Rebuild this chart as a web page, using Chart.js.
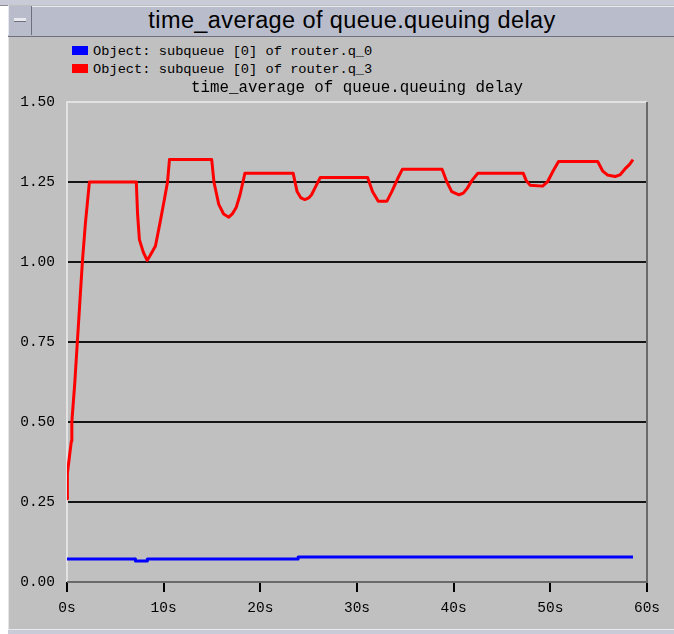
<!DOCTYPE html>
<html>
<head>
<meta charset="utf-8">
<script src="https://cdn.jsdelivr.net/npm/chart.js@4.4.1/dist/chart.umd.min.js"></script>
<style>
  html,body{margin:0;padding:0;background:#ffffff;width:674px;height:634px;overflow:hidden;}
  #topstrip{position:absolute;left:0;top:0;width:674px;height:5px;background:#c9cbd8;border-bottom:1px solid #8a8c9a;}
  #win{position:absolute;left:8px;top:5px;width:666px;height:625px;background:#c0c0c0;border-left:1px solid #e4e4e4;}
  #titlebar{position:absolute;left:8px;top:6px;width:666px;height:29px;background:#b9bccb;border-top:1px solid #e6e7ef;border-bottom:1px solid #6e7080;}
  #btn{position:absolute;left:8px;top:6px;width:22px;height:29px;background:#b9bccb;border-right:1px solid #6e7080;border-left:1px solid #e6e7ef;}
  #btn div{position:absolute;left:5px;top:12px;width:12px;height:3px;background:#e8e8ee;border-bottom:1px solid #6e7080;}
  #title{position:absolute;left:30px;width:644px;top:6px;height:29px;line-height:29px;text-align:center;font-family:"Liberation Sans",Arial,sans-serif;font-size:23.5px;color:#000;letter-spacing:0.4px;}
  #botstrip{position:absolute;left:8px;top:629px;width:666px;height:5px;background:#c9cbd8;border-top:1px solid #e8e8ee;}
  #legend{position:absolute;left:72px;top:43px;font-family:"Liberation Mono","Courier New",monospace;font-size:13.7px;color:#000;}
  .li{height:18px;line-height:18px;white-space:pre;}
  .sw{display:inline-block;width:16px;height:9px;margin-right:5px;vertical-align:middle;position:relative;top:-1px;}
  canvas{position:absolute;left:0;top:0;}
</style>
</head>
<body>
<div id="topstrip"></div>
<div id="win"></div>
<div id="titlebar"></div>
<div id="btn"><div></div></div>
<div id="title">time_average of queue.queuing delay</div>
<div id="botstrip"></div>
<div id="legend"></div>
<canvas id="c" width="674" height="634"></canvas>
<script>
// ---- data ----
const chartTitle = "time_average of queue.queuing delay";
const seriesLabels = ["Object: subqueue [0] of router.q_0", "Object: subqueue [0] of router.q_3"];
const seriesColors = ["#0000ff", "#ff0000"];

const q0Time  = [0, 7.07, 7.08, 8.3, 8.31, 23.9, 23.91, 58.55];
const q0Delay = [0.072, 0.072, 0.066, 0.066, 0.072, 0.072, 0.078, 0.078];

const q3Time  = [0, 0.04, 0.45, 0.5, 0.8, 1.07, 1.3, 1.59, 1.9, 2.32,
                 7.17, 7.3, 7.49, 7.9, 8.29, 8.6, 9.15, 9.67, 10.1, 10.4, 10.6,
                 14.97, 15.2, 15.7, 16.2, 16.74, 17.1, 17.5, 17.9, 18.2, 18.4,
                 23.4, 23.8, 24.2, 24.6, 25.0, 25.3, 25.8, 26.2,
                 31.1, 31.6, 32.2, 33.1, 33.6, 34.2, 34.7,
                 38.8, 39.3, 39.8, 40.55, 41.0, 41.4, 41.9, 42.5,
                 47.2, 47.5, 47.9, 49.2, 49.7, 50.3, 50.85,
                 54.9, 55.4, 55.9, 56.7, 57.2, 57.7, 58.2, 58.55];
const q3Delay = [0.26, 0.34, 0.44, 0.50, 0.62, 0.75, 0.86, 1.00, 1.12, 1.25,
                 1.25, 1.15, 1.07, 1.03, 1.005, 1.02, 1.05, 1.13, 1.20, 1.25, 1.32,
                 1.32, 1.25, 1.18, 1.15, 1.14, 1.15, 1.17, 1.21, 1.25, 1.277,
                 1.277, 1.22, 1.20, 1.195, 1.20, 1.21, 1.24, 1.264,
                 1.264, 1.22, 1.19, 1.19, 1.22, 1.26, 1.29,
                 1.29, 1.25, 1.22, 1.21, 1.215, 1.23, 1.255, 1.277,
                 1.277, 1.255, 1.24, 1.237, 1.25, 1.285, 1.314,
                 1.314, 1.285, 1.272, 1.267, 1.272, 1.29, 1.305, 1.32];

const xTickValues = [0, 10, 20, 30, 40, 50, 60];
const yTickValues = [0, 0.25, 0.5, 0.75, 1.0, 1.25, 1.5];

// ---- legend (real text) ----
const legendEl = document.getElementById('legend');
seriesLabels.forEach((lab, i) => {
  const row = document.createElement('div');
  row.className = 'li';
  const sw = document.createElement('span');
  sw.className = 'sw';
  sw.style.background = seriesColors[i];
  row.appendChild(sw);
  row.appendChild(document.createTextNode(lab));
  legendEl.appendChild(row);
});

const toPts = (t, v) => t.map((x, i) => ({x: x, y: v[i]}));
const MONO = '"Liberation Mono","Courier New",monospace';

const frame3d = {
  id: 'frame3d',
  beforeDatasetsDraw(chart) {
    const a = chart.chartArea, ctx = chart.ctx;
    ctx.save();
    ctx.lineWidth = 2;
    ctx.strokeStyle = '#e2e2e2';
    ctx.beginPath();
    ctx.moveTo(a.left, a.bottom); ctx.lineTo(a.left, a.top); ctx.lineTo(a.right, a.top);
    ctx.stroke();
    ctx.strokeStyle = '#6a6a6a';
    ctx.beginPath();
    ctx.moveTo(a.right, a.top); ctx.lineTo(a.right, a.bottom); ctx.lineTo(a.left, a.bottom);
    ctx.stroke();
    ctx.restore();
  }
};

new Chart(document.getElementById('c'), {
  type: 'line',
  data: {
    datasets: [
      {label: seriesLabels[0], data: toPts(q0Time, q0Delay), borderColor: seriesColors[0], borderWidth: 3, borderJoinStyle: 'round', pointRadius: 0, tension: 0, fill: false},
      {label: seriesLabels[1], data: toPts(q3Time, q3Delay), borderColor: seriesColors[1], borderWidth: 3, borderJoinStyle: 'round', pointRadius: 0, tension: 0, fill: false}
    ]
  },
  options: {
    responsive: false,
    animation: false,
    devicePixelRatio: 1,
    layout: {padding: {left: 0, right: 27, top: 78, bottom: 17}},
    plugins: {
      legend: {display: false},
      tooltip: {enabled: false},
      title: {display: true, text: chartTitle, fullSize: false, color: '#000',
              font: {family: MONO, size: 15.8, weight: 'normal'}, padding: {top: 0, bottom: 5}}
    },
    scales: {
      x: {
        type: 'linear', min: 0, max: 60,
        afterBuildTicks: s => { s.ticks = xTickValues.map(v => ({value: v})); },
        afterFit: s => { s.height = 35; },
        ticks: {callback: v => v + 's', color: '#000', font: {family: MONO, size: 14.5}, padding: 7, maxRotation: 0, autoSkip: false},
        grid: {drawOnChartArea: false, drawTicks: true, tickLength: 10, color: '#000', lineWidth: 2},
        border: {display: false}
      },
      y: {
        type: 'linear', min: 0, max: 1.5,
        afterBuildTicks: s => { s.ticks = yTickValues.map(v => ({value: v})); },
        afterFit: s => { s.width = 67; },
        ticks: {callback: v => Number(v).toFixed(2), color: '#000', font: {family: MONO, size: 14.5}, padding: 12, autoSkip: false},
        grid: {drawTicks: false, lineWidth: 2,
               color: c => (c.tick && (c.tick.value === 0 || c.tick.value === 1.5)) ? 'rgba(0,0,0,0)' : '#141414'},
        border: {display: false}
      }
    }
  },
  plugins: [frame3d]
});
</script>
</body>
</html>
